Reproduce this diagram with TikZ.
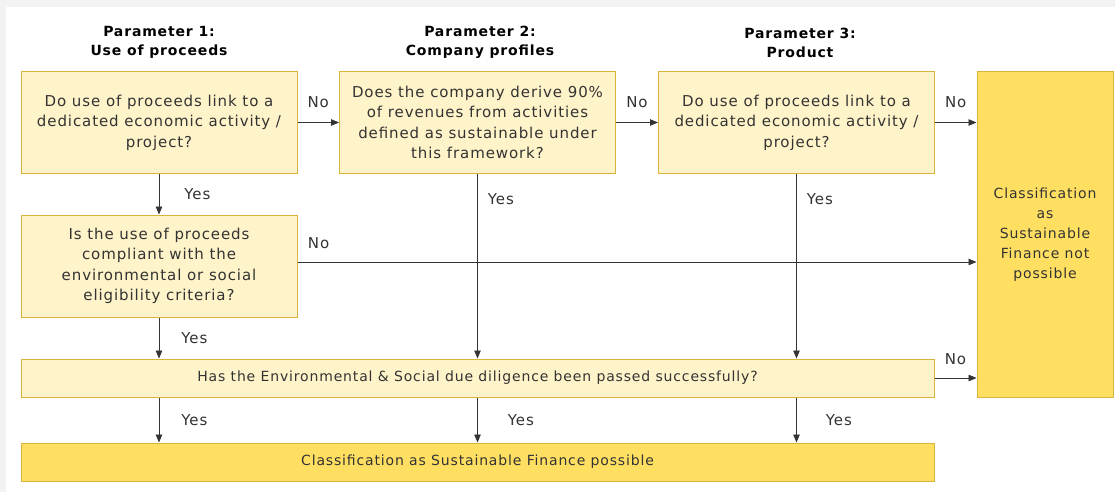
\documentclass[tikz,border=0pt]{standalone}
\usepackage{fontspec}
\setmainfont[LetterSpace=6]{DejaVu Sans}
\usetikzlibrary{arrows.meta}
\definecolor{box_light}{HTML}{FFF3C9}
\definecolor{box_dark}{HTML}{FFDF62}
\definecolor{box_edge}{HTML}{D8B33E}
\definecolor{frame_grey}{HTML}{F2F2F2}
\definecolor{text_grey}{HTML}{333333}
\newcommand{\boxfont}{\fontsize{15}{20.5}\selectfont}
\newcommand{\widefont}{\fontsize{14}{20}\selectfont}

\begin{document}
\begin{tikzpicture}[x=1pt, y=-1pt,
    question/.style={draw=box_edge, fill=box_light, line width=1pt, align=center,
        inner sep=0pt, minimum width=276pt, minimum height=101pt,
        text=text_grey, font=\boxfont},
    outcome/.style={question, fill=box_dark},
    header/.style={align=center, font=\fontsize{14}{19}\selectfont\bfseries, text=black},
    answer/.style={font=\fontsize{15}{17}\selectfont, text=text_grey, inner sep=0pt},
    flow/.style={-{Triangle[length=8pt, width=6.5pt]}, line width=0.8pt, draw=text_grey}]
    % Frame
    \fill[frame_grey] (0,0) rectangle (1115,492);
    \fill[white] (6,7) rectangle (1115,492);

    % Headers
    \node[header] (head1) at (159,42.5) {Parameter 1:\\Use of proceeds};
    \node[header] (head2) at (480,42.5) {Parameter 2:\\Company profiles};
    \node[header] (head3) at (800,42.5) {Parameter 3:\\Product};

    % Questions
    \node[question] (use) at (159,122.5) {Do use of proceeds link to a\\dedicated economic activity /\\project?};
    \node[question] (company) at (477.5,122.5) {Does the company derive 90\%\\of revenues from activities\\defined as sustainable under\\this framework?};
    \node[question] (product) at (796.5,122.5) {Do use of proceeds link to a\\dedicated economic activity /\\project?};
    \node[question, minimum height=102pt] (criteria) at (159,266) {Is the use of proceeds\\compliant with the\\environmental or social\\eligibility criteria?};
    \node[question, font=\widefont, minimum width=913pt, minimum height=38pt] (diligence) at (477.5,378) {Has the Environmental \& Social due diligence been passed successfully?};

    % Outcomes
    \node[outcome, font=\widefont, minimum width=913pt, minimum height=38pt] (possible) at (477.5,462) {Classification as Sustainable Finance possible};
    \node[outcome, font=\widefont, minimum width=136pt, minimum height=325pt] (notpossible) at (1045,234.5) {Classification\\as\\Sustainable\\Finance not\\possible};

    % No arrows
    \draw[flow] (use) -- (company) node[answer, midway, above=14pt] {No};
    \draw[flow] (company) -- (product) node[answer, midway, above=14pt] {No};
    \draw[flow] (product) -- (product -| notpossible.west) node[answer, midway, above=14pt] {No};
    \draw[flow] (criteria.east) ++(0,-4) coordinate (critout) -- (critout -| notpossible.west) node[answer, pos=0.031, above=13pt] {No};
    \draw[flow] (diligence) -- (diligence -| notpossible.west) node[answer, midway, above=13pt] {No};

    % Yes arrows
    \draw[flow] (use) -- (criteria) node[answer, midway, right=25pt] {Yes};
    \draw[flow] (criteria) -- (criteria |- diligence.north) node[answer, midway, right=22pt] {Yes};
    \draw[flow] (company) -- (company |- diligence.north) node[answer, pos=0.14, right=10pt] {Yes};
    \draw[flow] (product) -- (product |- diligence.north) node[answer, pos=0.14, right=10pt] {Yes};
    \draw[flow] (criteria |- diligence.south) -- (criteria |- possible.north) node[answer, midway, right=22pt] {Yes};
    \draw[flow] (company |- diligence.south) -- (company |- possible.north) node[answer, midway, right=30pt] {Yes};
    \draw[flow] (product |- diligence.south) -- (product |- possible.north) node[answer, midway, right=29pt] {Yes};
\end{tikzpicture}
\end{document}
